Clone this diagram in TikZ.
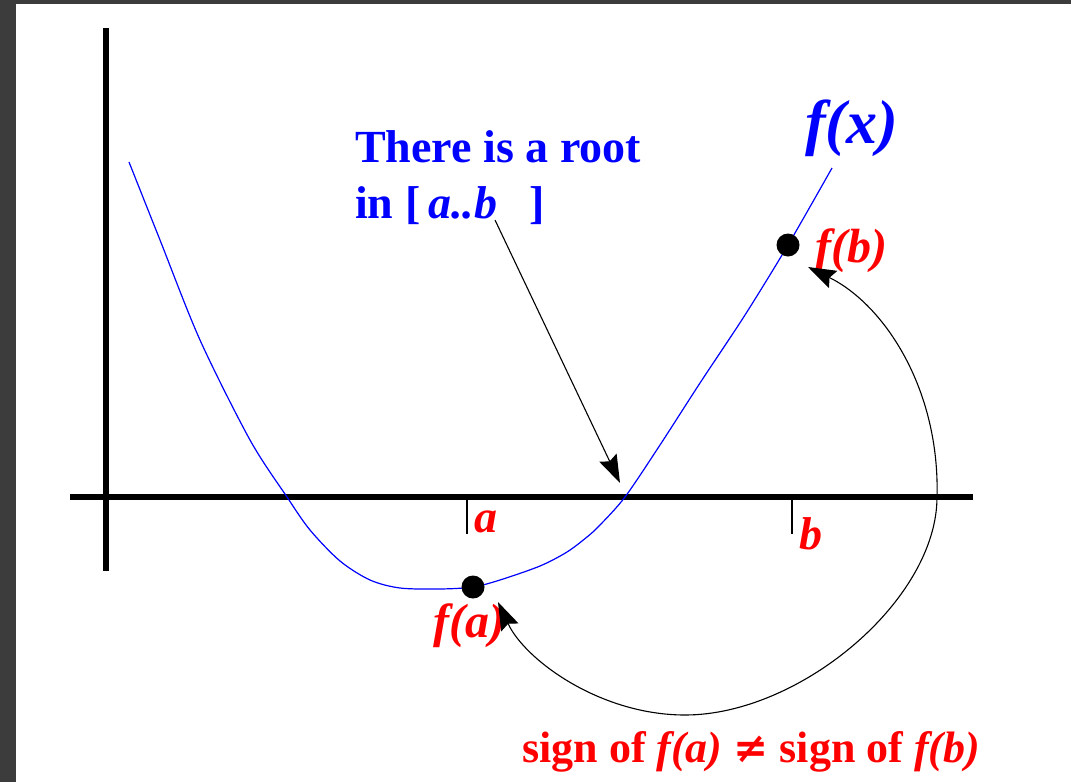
\documentclass[tikz,border=0pt]{standalone}
\usepackage{fontspec}
\setmainfont{Liberation Serif}
\usetikzlibrary{arrows.meta}
\definecolor{frame}{HTML}{3C3C3C}
\definecolor{pblue}{RGB}{0,0,255}
\definecolor{pred}{RGB}{255,0,0}
\tikzset{
  axisline/.style={line width=6pt},
  tickline/.style={line width=1.6pt},
  fcurve/.style={pblue, line width=1.2pt},
  dotmark/.style={circle, fill=black, inner sep=0pt, minimum size=23pt},
  bluetxt/.style={pblue, font=\fontsize{46}{50}\selectfont\bfseries, anchor=base west, inner sep=0pt},
  redtxt/.style={pred, font=\fontsize{48}{52}\selectfont\bfseries\itshape, anchor=base west, inner sep=0pt},
  ticktxt/.style={pred, font=\fontsize{46}{50}\selectfont\bfseries\itshape, anchor=base west, inner sep=0pt},
  signtxt/.style={pred, font=\fontsize{44}{48}\selectfont\bfseries, anchor=base west, inner sep=0pt},
  pointer/.style={black, line width=1.1pt, -{Stealth[length=28pt,width=19pt,inset=4pt]}},
  dblpointer/.style={black, line width=1.1pt, {Stealth[length=28pt,width=19pt,inset=4pt]}-{Stealth[length=28pt,width=19pt,inset=4pt]}}
}
\begin{document}
\begin{tikzpicture}[x=1pt,y=-1pt]
\useasboundingbox (0,0) rectangle (1071,782);
\fill[frame] (0,0) rectangle (1071,782);
\fill[white] (16,4) rectangle (1071,782);
% axes
\coordinate (ytop) at (106,28);
\coordinate (ybot) at (106,571);
\coordinate (xl) at (70,497);
\coordinate (xr) at (973,497);
\draw[axisline] (ytop) -- (ybot);
\draw[axisline] (xl) -- (xr);
% ticks
\coordinate (ta1) at (467,500);
\coordinate (ta2) at (467,534);
\coordinate (tb1) at (792,500);
\coordinate (tb2) at (792,534);
\draw[tickline] (ta1) -- (ta2);
\draw[tickline] (tb1) -- (tb2);
\node[ticktxt] (la) at (474,532) {a};
\node[ticktxt] (lb) at (799,549) {b};
% curve
\draw[fcurve] plot[smooth, tension=0.5] coordinates {(129,162) (160,240) (200,340) (250,440) (287,497) (310,530) (340,561) (370,580) (400,588) (440,589) (473,587) (500,580) (540,566) (567,552) (587,537) (600,525) (625,497) (660,445) (700,383) (745,315) (788,245) (832,168)};
\node[dotmark] (fa) at (473,587) {};
\node[dotmark] (fb) at (788,245) {};
\node[pblue, font=\fontsize{62}{66}\selectfont\bfseries\itshape, anchor=base west, inner sep=0pt] (fx) at (805,143) {f(x)};
\node[redtxt] (lfb) at (815,262) {f(b)};
\node[redtxt] (lfa) at (433,637) {f(a)};
% root text
\node[bluetxt] (t1) at (355,162) {There is a root};
\node[bluetxt] (t2) at (355,218) {in [\,\textit{a..b}\hspace{0.7em}]};
\coordinate (rootstart) at (495,220);
\coordinate (root) at (620,483);
\draw[pointer] (rootstart) -- (root);
% sign arc
\coordinate (fatip) at (498,602);
\coordinate (arcbot) at (685,715);
\coordinate (arcright) at (937,497);
\coordinate (fbtip) at (808,267);
\draw[dblpointer] (fatip) .. controls (525,660) and (600,715) .. (arcbot)
   .. controls (800,715) and (937,600) .. (arcright)
   .. controls (940,390) and (885,305) .. (fbtip);
\node[signtxt] (sign) at (522,762) {sign of \textit{f(a)} {\fontspec{DejaVu Serif}\bfseries\fontsize{42}{44}\selectfont ≠} sign of \textit{f(b)}};
\end{tikzpicture}
\end{document}
